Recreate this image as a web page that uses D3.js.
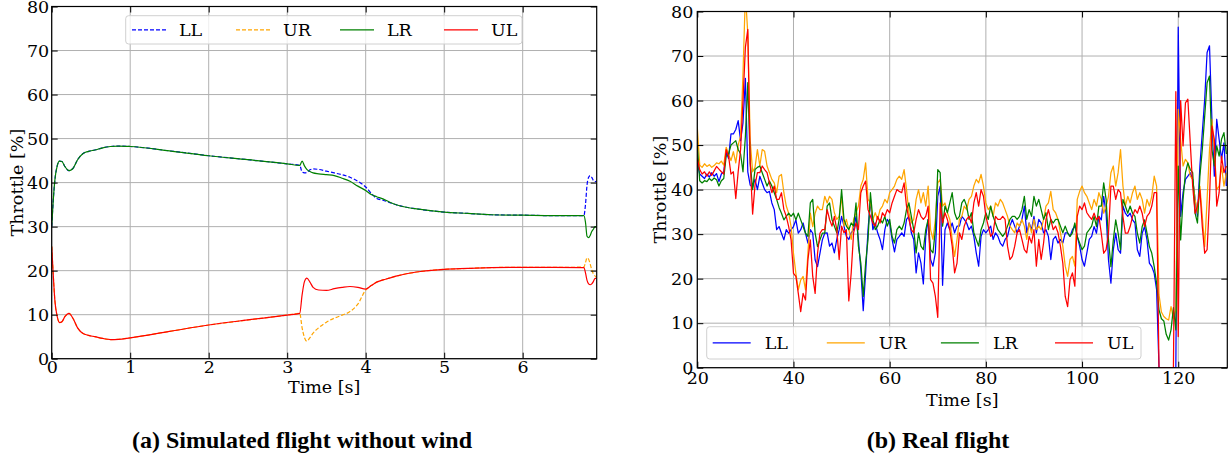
<!DOCTYPE html>
<html>
<head>
<meta charset="utf-8">
<script src="https://cdn.jsdelivr.net/npm/d3@7"></script>
<style>
  body { margin: 0; background: #fff; }
  svg { display: block; }
</style>
</head>
<body>
<svg id="fig" width="1228" height="461"></svg>
<script>
// ---------------- data ----------------
const motors = ["LL", "UR", "LR", "UL"];
const motorColors = ["#0000ff", "#ffa500", "#008000", "#ff0000"];
const simDashed = [true, true, false, false];

const yTicks = [0, 10, 20, 30, 40, 50, 60, 70, 80];
const simXTicks = [0, 1, 2, 3, 4, 5, 6];
const realXTicks = [20, 40, 60, 80, 100, 120];

// (a) simulated flight, throttle [%] per motor
const simTime = [0, 0.02, 0.04, 0.07, 0.1, 0.13, 0.17, 0.22, 0.27, 0.33, 0.4, 0.47, 0.55, 0.65, 0.75, 0.85,
  1.0, 1.5, 2.0, 2.5, 3.0, 3.16, 3.19, 3.22, 3.25, 3.29, 3.33, 3.4, 3.5, 3.6, 3.7, 3.8, 3.9, 4.0, 4.07, 4.14,
  4.22, 4.3, 4.4, 4.52, 4.7, 5.0, 5.3, 5.6, 6.0, 6.4, 6.78, 6.8, 6.82, 6.84, 6.86, 6.88, 6.9, 6.92, 6.94];
const simLL = [30, 36, 40.5, 43.8, 44.9, 44.8, 43.6, 42.7, 43.2, 45.2, 46.6, 47.1, 47.4, 47.9, 48.2, 48.3,
  48.2, 47.2, 46.1, 45.2, 44.25, 43.9, 42.4, 42.2, 42.3, 42.9, 43.1, 43.0, 42.6, 42.2, 41.8, 41.2, 40.3, 39.0, 37.6, 36.4,
  36.0, 35.5, 34.9, 34.4, 33.9, 33.3, 33.0, 32.7, 32.6, 32.5, 32.5, 35, 39.5, 41.2, 41.6, 41.2, 40.5, 40.2, 40.3];
const simUR = [25.5, 19, 13.3, 9.6, 8.2, 8.4, 9.6, 10.3, 9.2, 7, 5.7, 5.3, 5.0, 4.6, 4.35, 4.4,
  4.75, 6.2, 7.65, 8.8, 9.9, 10.3, 7, 4.8, 4.0, 4.8, 5.8, 7.0, 8.3, 9.2, 9.9, 10.7, 12.4, 15.6, 16.6, 17.4,
  17.9, 18.3, 18.8, 19.3, 19.8, 20.3, 20.5, 20.7, 20.75, 20.75, 20.8, 21.8, 22.9, 22.6, 21.5, 20.2, 19.3, 18.8, 18.6];
const simLR = [30, 36, 40.5, 43.8, 44.9, 44.8, 43.6, 42.7, 43.2, 45.2, 46.6, 47.1, 47.4, 47.9, 48.2, 48.3,
  48.2, 47.2, 46.1, 45.2, 44.25, 43.9, 44.9, 43.8, 43.0, 42.5, 42.2, 42.0, 41.8, 41.6, 41.0, 40.3, 39.2, 38.2, 37.3, 36.8,
  36.3, 35.6, 34.9, 34.4, 33.9, 33.3, 33.0, 32.7, 32.6, 32.5, 32.5, 31, 27.8, 27.5, 28, 28.9, 29.4, 30, 30];
const simUL = [25.5, 19, 13.3, 9.6, 8.2, 8.4, 9.6, 10.3, 9.2, 7, 5.7, 5.3, 5.0, 4.6, 4.35, 4.4,
  4.75, 6.2, 7.65, 8.8, 9.9, 10.3, 14.5, 17.5, 18.3, 17.4, 16.2, 15.6, 15.5, 15.9, 16.2, 16.4, 16.2, 15.8, 16.6, 17.4,
  17.9, 18.3, 18.8, 19.3, 19.8, 20.3, 20.5, 20.7, 20.75, 20.75, 20.7, 19.5, 17.8, 17.0, 16.8, 17.0, 17.5, 18.2, 18.3];

// (b) real flight, logged every 0.5 s from t = 20 s (one row per 10 s)
const realStart = 20, realStep = 0.5;
const realLL = [
  46, 43.5, 43, 42.5, 43.5, 42.8, 43.8, 43, 43.6, 41.8, 43.5, 44, 48.5, 47, 52.5, 52.5, 53.5, 55.5, 51, 55,
  65, 44, 41, 40.5, 42.3, 40, 43, 41.5, 40, 39.3, 39.6, 37, 35.5, 31, 31.7, 30.2, 28.7, 31, 30.2, 31,
  31.7, 33.2, 30.2, 31, 32.5, 30.2, 28, 31, 30.2, 24.2, 22.7, 25.7, 28.7, 30.2, 30.3, 27.3, 28, 25.8, 28.8, 31,
  34, 31.8, 29.5, 28.8, 30.3, 31, 34, 28.8, 22, 12.8, 21.3, 31, 37.8, 31, 32.5, 30.3, 28.8, 26.5, 31, 33.3,
  32.5, 28.8, 26, 28.8, 29.5, 30.3, 29.5, 33.3, 34, 30.3, 28.8, 21.3, 25.8, 23.5, 18.8, 29.5, 33.3, 24.3, 22.8, 25.8,
  38.5, 40.8, 18.5, 31, 32.5, 31, 32.5, 30.3, 31.8, 31.8, 34, 33.3, 32.5, 31, 31.8, 29.5, 25.8, 22.8, 29.5, 31,
  30.3, 31, 31.8, 28.8, 30.3, 29.5, 28, 27.3, 28.8, 29.5, 31.8, 33.3, 31.8, 30.3, 31.8, 33.3, 36.3, 30.3, 32.5, 31,
  34, 30.3, 33.3, 32.5, 30.3, 31, 29.5, 24.3, 28.8, 29.5, 28, 28.8, 28, 30.3, 30.3, 29.5, 31, 31.8, 29.5, 27.3,
  24.3, 22.8, 25.8, 28.8, 29.5, 31.7, 30.2, 34, 33.2, 38.5, 34.7, 24.2, 19, 26.5, 30.2, 26.5, 25.7, 36.3, 34.7, 34,
  34.7, 33.2, 32.5, 26.5, 25, 30.2, 31.7, 28.7, 23.5, 22.7, 21.2, 17.5, 0, 0, 0, 0, 0, 0, 0, 0,
  76.5, 34, 39.3, 42.3, 43, 43.8, 42.3, 37.8, 34, 45.3, 52.8, 60.3, 70.8, 72.3, 55.8, 43, 55.8, 51.3, 46.8, 50.5,
  40.8];
const realUR = [
  54, 45.5, 45, 45.8, 45.2, 45.6, 45, 45.4, 46, 45.8, 46.4, 45.5, 49.5, 48, 46.5, 48.5, 46, 50, 52, 66,
  84, 75, 51, 44, 45, 49, 45.3, 49, 48.6, 45.3, 43.8, 42.3, 41.5, 39.3, 43, 43.4, 39.3, 36.3, 34.7, 31.7,
  25.7, 21.2, 17.5, 19.7, 20.5, 17.5, 25.7, 34.7, 31.7, 34.7, 36.3, 35.5, 35.5, 38.5, 37, 38.5, 37.8, 34.8, 33.3, 34,
  38.5, 31.8, 33.3, 31, 28.8, 33.3, 34.8, 36.3, 40.8, 42.3, 46, 37.8, 37, 33.3, 34.8, 33.3, 35.5, 36.3, 37.8, 37,
  39.3, 40, 40.8, 42.3, 43, 42.3, 44.5, 40, 34.8, 32.5, 33.3, 37.8, 40, 37, 39.3, 36.3, 40.8, 31, 28.8, 33.3,
  41.5, 42.3, 36.3, 37, 34.8, 33.3, 28.8, 25, 28.8, 33.3, 34, 36.3, 35.5, 37.8, 38.5, 40.8, 42.3, 41.5, 43.4, 40.8,
  37, 35.5, 36.3, 34, 37, 36.3, 37.8, 37, 35.5, 34, 31.8, 31, 30.3, 32.5, 31.8, 33.3, 31.8, 28.8, 32.5, 30.3,
  33.3, 31, 31.8, 31, 33.3, 36.3, 37, 39.6, 35.5, 34.8, 33.3, 30.3, 27.3, 22.8, 20.5, 24.3, 25, 22.8, 37.8, 39.6,
  40.8, 39.3, 38.5, 37, 35.5, 37.8, 36.3, 39.3, 37.8, 34.7, 36.3, 38.5, 43.8, 45.3, 40.8, 43.8, 49, 40.8, 36.3, 38.5,
  37, 39.3, 40.8, 37.8, 39.3, 37.8, 34.7, 37.8, 36.3, 38.5, 43, 40.8, 16.4, 12.5, 11.5, 11, 10.7, 13.7, 11, 13,
  58, 51.3, 45.3, 46.8, 46, 43, 42.3, 37.8, 34.7, 40.8, 34, 27.2, 37.8, 49, 55.8, 49, 40, 40.8, 45.3, 40.8,
  43.8];
const realLR = [
  50, 42, 41.5, 42, 41.8, 42.5, 42, 42.6, 42.2, 40.8, 42, 42.5, 47.5, 48, 50, 50.5, 51, 49, 48, 44,
  52, 64, 46, 40, 44.5, 45, 45.3, 43.8, 42.3, 40.8, 41.9, 40.8, 39.3, 37.8, 36, 34.7, 33.2, 34, 34.7, 34,
  34.7, 33.2, 34.7, 33.2, 31.7, 30.2, 29.5, 37, 37.8, 30.2, 27.2, 28.7, 30.2, 30.2, 36.3, 37, 33.3, 31.8, 30.3, 33.3,
  40, 33.3, 31.8, 31, 32.5, 31.8, 37, 27.3, 23.5, 16, 23.5, 28.8, 39.3, 33.3, 31, 31.8, 33.3, 32.5, 34, 31.8,
  33.3, 29.5, 28, 31, 31.8, 31, 32.5, 35.5, 37, 34, 31, 25.8, 30.3, 27.3, 26.5, 31, 33.3, 26.5, 25.8, 31,
  44.5, 43.8, 31.8, 36.3, 34.8, 37, 39.3, 34.8, 33.3, 34, 37, 37.8, 36.3, 33.3, 34.8, 30.3, 28.8, 27.3, 31, 32.5,
  34.8, 33.3, 36.3, 34, 32.5, 31, 30.3, 29.5, 30.3, 31.8, 33.3, 34, 34, 33.3, 34, 35.5, 38.5, 33.3, 35.5, 34,
  38.5, 36.3, 37.8, 35.5, 33.3, 34.8, 31, 33.3, 32.5, 33.3, 33.3, 31.8, 30.3, 31.8, 30.3, 29.5, 30.3, 32.5, 29.5, 28,
  26.5, 27.3, 30.3, 31, 31.8, 34, 31.7, 36.3, 36.3, 41.5, 37.8, 28.7, 22.7, 28.7, 33.2, 30.2, 26.5, 37.8, 36.3, 34.7,
  36.3, 34.7, 34, 30.2, 28, 31.7, 33.2, 30.2, 27.2, 25.7, 22.7, 19, 13, 11, 10.5, 7.5, 6.2, 8.5, 13.5, 8.5,
  45.3, 28.7, 37.8, 43.8, 46, 44.5, 43.8, 34.7, 32.5, 43, 49, 56.5, 64, 65.5, 49, 45.3, 49.8, 47.5, 51.3, 52.8,
  48];
const realUL = [
  47, 44.5, 43.5, 44, 43, 44, 43.2, 44.2, 45.2, 44.6, 44, 43.5, 49, 47.5, 43.5, 44, 38, 44, 49, 60,
  72, 76, 46, 34.5, 41, 43.8, 43.8, 45.3, 44.5, 43.8, 41.5, 39.3, 40.8, 37.8, 37.8, 39.3, 35.5, 34, 31.7, 28.7,
  21.2, 20.5, 16.7, 12.6, 16.7, 15.2, 24.2, 28.7, 20.5, 16.7, 25.7, 30.2, 31, 31, 35.5, 33.3, 31.8, 34, 31, 24.3,
  31.8, 30.3, 31, 15, 21.3, 30.3, 32.5, 31, 39.3, 40.8, 41.9, 35.5, 34, 32.5, 31.8, 34, 32.5, 34.8, 34, 35.5,
  34.8, 37, 38.5, 40, 39.6, 39.3, 41.5, 36.3, 33.3, 31, 30.3, 33.3, 35.5, 34, 33.3, 34, 36.3, 19.8, 19, 16,
  11.3, 37, 32.5, 34.8, 33.3, 31, 27.3, 21.3, 23.5, 30.3, 28.8, 31.8, 33.3, 34, 32.5, 37, 39.3, 36.3, 40, 38.5,
  34, 31.8, 29.5, 30.3, 34, 33.3, 33.3, 34, 33.3, 27.3, 24.3, 25, 27.3, 30.3, 31, 28.8, 26.5, 25.8, 29.5, 28,
  31, 22.8, 28.8, 24.3, 28, 33.3, 35.5, 33.3, 31, 31.8, 30.3, 27.3, 23.5, 16, 13.7, 19.8, 21.3, 18.3, 34, 36.3,
  35.5, 37, 34.8, 34, 33.3, 34.7, 33.2, 34, 30.2, 25.7, 26.5, 30.2, 40.8, 40.8, 37.8, 40, 39.3, 34, 30.2, 30.2,
  31.7, 34, 35.5, 34.7, 36.3, 34.7, 31.7, 34, 34.7, 36.3, 39.3, 39.3, 0, 0, 0, 0, 0, 0, 0, 62,
  7, 60, 49.8, 59.5, 60.3, 50.5, 40.8, 34.7, 36.3, 40, 31.7, 25.7, 26.5, 37.8, 54.3, 51.3, 36.3, 39.3, 47.5, 43.8,
  45.3];
const realTime = realLL.map((_, i) => realStart + i * realStep);

// ---------------- drawing ----------------
const svg = d3.select("#fig");
const FONT = "'DejaVu Serif', serif";
const FS = 17.5;

function drawPanel(opt) {
  const g = svg.append("g");
  const x = d3.scaleLinear().domain(opt.xDomain).range([opt.left, opt.right]);
  const y = d3.scaleLinear().domain([0, 80]).range([opt.bottom, opt.top]);

  // grid
  const grid = g.append("g").attr("stroke", "#b0b0b0").attr("stroke-width", 1);
  grid.selectAll("line.v").data(opt.xTicks).join("line").attr("class", "v")
    .attr("x1", d => x(d)).attr("x2", d => x(d)).attr("y1", opt.top).attr("y2", opt.bottom);
  grid.selectAll("line.h").data(yTicks).join("line").attr("class", "h")
    .attr("x1", opt.left).attr("x2", opt.right).attr("y1", d => y(d)).attr("y2", d => y(d));

  // data lines
  const clipId = "clip-" + opt.id;
  g.append("clipPath").attr("id", clipId).append("rect")
    .attr("x", opt.left).attr("y", opt.top)
    .attr("width", opt.right - opt.left).attr("height", opt.bottom - opt.top);
  const lines = g.append("g").attr("clip-path", `url(#${clipId})`);
  const line = d3.line().x(d => x(d[0])).y(d => y(d[1])).curve(opt.curve);
  opt.series.forEach((vals, k) => {
    lines.append("path")
      .datum(opt.time.map((t, i) => [t, vals[i]]))
      .attr("d", line)
      .attr("fill", "none")
      .attr("stroke", motorColors[k])
      .attr("stroke-width", opt.lineWidth)
      .attr("stroke-linejoin", "round")
      .attr("stroke-dasharray", opt.dashed[k] ? "4,2" : null);
  });

  // axes (ticks point inward on all four sides)
  const styleAxis = sel => {
    sel.select(".domain").remove();
    sel.selectAll(".tick line").attr("stroke", "#000").attr("stroke-width", 1);
    sel.selectAll(".tick text").attr("fill", "#000");
    sel.attr("font-family", FONT).attr("font-size", FS);
  };
  g.append("g").attr("transform", `translate(0,${opt.bottom})`)
    .call(d3.axisBottom(x).tickValues(opt.xTicks).tickSize(-6).tickPadding(opt.xPad).tickFormat(d3.format("d")))
    .call(styleAxis);
  g.append("g").attr("transform", `translate(0,${opt.top})`)
    .call(d3.axisTop(x).tickValues(opt.xTicks).tickSize(-6).tickFormat(""))
    .call(styleAxis);
  g.append("g").attr("transform", `translate(${opt.left},0)`)
    .call(d3.axisLeft(y).tickValues(yTicks).tickSize(-6).tickPadding(opt.yPad).tickFormat(d3.format("d")))
    .call(styleAxis);
  g.append("g").attr("transform", `translate(${opt.right},0)`)
    .call(d3.axisRight(y).tickValues(yTicks).tickSize(-6).tickFormat(""))
    .call(styleAxis);

  // frame
  g.append("rect").attr("x", opt.left).attr("y", opt.top)
    .attr("width", opt.right - opt.left).attr("height", opt.bottom - opt.top)
    .attr("fill", "none").attr("stroke", "#000").attr("stroke-width", 1.2);

  // axis labels
  g.append("text").attr("x", (opt.left + opt.right) / 2).attr("y", opt.xLabelY)
    .attr("text-anchor", "middle").attr("font-family", FONT).attr("font-size", FS)
    .text("Time [s]");
  g.append("text").attr("transform", `translate(${opt.yLabelX},${(opt.top + opt.bottom) / 2}) rotate(-90)`)
    .attr("text-anchor", "middle").attr("font-family", FONT).attr("font-size", FS)
    .text("Throttle [%]");

  // legend
  const L = opt.legend;
  const lg = g.append("g");
  lg.append("rect").attr("x", L.x).attr("y", L.y).attr("width", L.w).attr("height", L.h)
    .attr("rx", 3).attr("fill", "#fff").attr("fill-opacity", 0.8)
    .attr("stroke", "#d0d0d0").attr("stroke-width", 1);
  motors.forEach((m, k) => {
    const hx = L.x0 + k * L.step;
    const ly = L.y + L.h / 2;
    lg.append("line").attr("x1", hx).attr("x2", hx + L.handle).attr("y1", ly).attr("y2", ly)
      .attr("stroke", motorColors[k]).attr("stroke-width", opt.lineWidth)
      .attr("stroke-dasharray", opt.dashed[k] ? "4,2" : null);
    lg.append("text").attr("x", hx + L.handle + L.gap).attr("y", ly).attr("dy", "0.35em")
      .attr("font-family", FONT).attr("font-size", FS).text(m);
  });

  // caption
  g.append("text").attr("x", opt.captionX).attr("y", 448)
    .attr("text-anchor", "middle")
    .attr("font-family", "'Liberation Serif', 'Times New Roman', serif")
    .attr("font-weight", "bold").attr("font-size", 24)
    .text(opt.caption);
}

drawPanel({
  id: "sim", left: 51.7, right: 596.7, top: 6.5, bottom: 358.7,
  xDomain: [0, 6.943], xTicks: simXTicks, xPad: 2, yPad: 2.5,
  time: simTime, series: [simLL, simUR, simLR, simUL], dashed: simDashed,
  curve: d3.curveMonotoneX, lineWidth: 1.2,
  xLabelY: 393, yLabelX: 23,
  legend: { x: 125.7, y: 15.7, w: 396.3, h: 28.3, x0: 132, step: 104, handle: 34, gap: 13 },
  caption: "(a) Simulated flight without wind", captionX: 302
});

drawPanel({
  id: "real", left: 697.3, right: 1227.3, top: 11.5, bottom: 367.7,
  xDomain: [20, 130.2], xTicks: realXTicks, xPad: 3.5, yPad: 4,
  time: realTime, series: [realLL, realUR, realLR, realUL], dashed: [false, false, false, false],
  curve: d3.curveLinear, lineWidth: 1.25,
  xLabelY: 405.5, yLabelX: 666,
  legend: { x: 706.7, y: 326.7, w: 434.3, h: 32.3, x0: 712.7, step: 114.1, handle: 38, gap: 14 },
  caption: "(b) Real flight", captionX: 938
});
</script>
</body>
</html>
